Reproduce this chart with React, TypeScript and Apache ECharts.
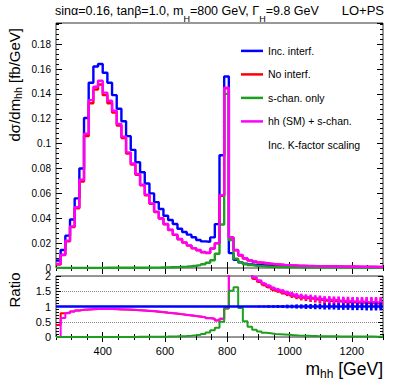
import React, { useEffect, useRef } from "react";
import * as echarts from "echarts";

const FONT = "'Liberation Sans', Arial, Helvetica, sans-serif";
const f = (px: number) => `${px}px ${FONT}`;

// ---- binning / axes ----
const binStart = 250;
const binWidth = 15;
const xMin = 250;
const xMax = 1300;
const xMajorTicks = [400, 600, 800, 1000, 1200];
const xMinorStep = 50;
const yTopMax = 0.197;
const yTopStep = 0.02;
const yTopMinorStep = 0.004;
const ratioMax = 2;
const ratioStep = 0.5;
const ratioMinorStep = 0.1;

// ---- legend ----
const names = ["Inc. interf.", "No interf.", "s-chan. only", "hh (SM) + s-chan."];
const noteText = "Inc. K-factor scaling";
const colors = ["#0000ff", "#ff0000", "#1f9f1f", "#ff00ff"];

// ---- top panel: dsigma/dm_hh [fb/GeV], 70 bins of 15 GeV from 250 ----
const incInterf = [
  0.006, 0.0145, 0.026, 0.039, 0.056, 0.08, 0.1206, 0.149, 0.162, 0.164,
  0.157, 0.149, 0.139, 0.128, 0.118, 0.106, 0.095, 0.085, 0.077, 0.068,
  0.06, 0.053, 0.0474, 0.042, 0.0386, 0.0354, 0.0316, 0.029, 0.0268, 0.0247,
  0.0225, 0.0214, 0.0211, 0.0246, 0.0353, 0.0907, 0.154, 0.012, 0.0065, 0.0045,
  0.0035, 0.0029, 0.0025, 0.0023, 0.0021, 0.002, 0.0019, 0.0018, 0.0017, 0.0016,
  0.0015, 0.0014, 0.0013, 0.0013, 0.0012, 0.0012, 0.0011, 0.0011, 0.001, 0.001,
  0.001, 0.0009, 0.0009, 0.0009, 0.0009, 0.0008, 0.0008, 0.0008, 0.0007, 0.0007,
];
const noInterf = [
  0.0028, 0.0105, 0.0215, 0.033, 0.048, 0.0695, 0.106, 0.1325, 0.1435, 0.1475,
  0.139, 0.1325, 0.125, 0.1145, 0.1045, 0.092, 0.0832, 0.075, 0.0665, 0.0585,
  0.0516, 0.045, 0.0397, 0.0352, 0.0306, 0.0266, 0.0231, 0.0204, 0.018, 0.0158,
  0.0143, 0.0127, 0.0121, 0.0156, 0.0198, 0.058, 0.1445, 0.0245, 0.0142, 0.0101,
  0.0076, 0.006, 0.005, 0.0043, 0.0038, 0.0034, 0.003, 0.0027, 0.0024, 0.0022,
  0.002, 0.0018, 0.0017, 0.0016, 0.0015, 0.0014, 0.0013, 0.0012, 0.0012, 0.0011,
  0.0011, 0.001, 0.001, 0.001, 0.0009, 0.0009, 0.0009, 0.0008, 0.0008, 0.0008,
];
const sChanOnly = [
  0.0001, 0.0001, 0.0001, 0.0001, 0.0001, 0.0001, 0.0001, 0.0001, 0.0001, 0.0001,
  0.0002, 0.0002, 0.0002, 0.0002, 0.0002, 0.0002, 0.0002, 0.0002, 0.0002, 0.0002,
  0.0003, 0.0003, 0.0004, 0.0005, 0.0006, 0.0007, 0.0009, 0.0011, 0.0014, 0.0018,
  0.0023, 0.003, 0.0042, 0.0062, 0.0115, 0.035, 0.14, 0.0225, 0.0075, 0.0045,
  0.003, 0.0023, 0.0018, 0.0015, 0.0012, 0.001, 0.0009, 0.0008, 0.0007, 0.0006,
  0.0005, 0.0005, 0.0004, 0.0004, 0.0004, 0.0003, 0.0003, 0.0003, 0.0003, 0.0003,
  0.0003, 0.0003, 0.0003, 0.0002, 0.0002, 0.0002, 0.0002, 0.0002, 0.0002, 0.0002,
];
const hhSmPlusS = [
  0.0032, 0.0107, 0.022, 0.0335, 0.0488, 0.071, 0.108, 0.135, 0.1458, 0.1506,
  0.141, 0.1345, 0.1265, 0.1158, 0.1056, 0.093, 0.084, 0.0756, 0.067, 0.059,
  0.052, 0.0453, 0.04, 0.0354, 0.0308, 0.0268, 0.0233, 0.0206, 0.0182, 0.016,
  0.0145, 0.0129, 0.0123, 0.0158, 0.02, 0.0586, 0.145, 0.0246, 0.0145, 0.0104,
  0.0078, 0.0062, 0.0052, 0.0045, 0.004, 0.0035, 0.0031, 0.0028, 0.0025, 0.0023,
  0.0021, 0.0019, 0.0018, 0.0017, 0.0016, 0.0015, 0.0014, 0.0013, 0.0012, 0.0012,
  0.0011, 0.0011, 0.001, 0.001, 0.001, 0.0009, 0.0009, 0.0009, 0.0008, 0.0008,
];

// ---- ratio panel ----
const ratioInc = [
  1, 1, 1, 1, 1, 1, 1, 1, 1, 1, 1, 1, 1, 1, 1, 1, 1, 1, 1, 1,
  1, 1, 1, 1, 1, 1, 1, 1, 1, 1, 1, 1, 1, 1, 1, 1, 1, 1, 1, 1,
  1, 1, 1, 1, 1, 1, 1, 1, 1, 1, 1, 1, 1, 1, 1, 1, 1, 1, 1, 1,
  1, 1, 1, 1, 1, 1, 1, 1, 1, 1,
];
const ratioNo = [
  0.39, 0.78, 0.8, 0.84, 0.87, 0.89, 0.9, 0.91, 0.915, 0.915,
  0.915, 0.915, 0.91, 0.905, 0.9, 0.895, 0.885, 0.875, 0.865, 0.855,
  0.845, 0.83, 0.815, 0.795, 0.78, 0.765, 0.745, 0.725, 0.705, 0.685,
  0.665, 0.645, 0.615, 0.595, 0.545, 0.595, 0.935, 3, 3, 3,
  3, 2.3, 1.91, 1.81, 1.71, 1.64, 1.56, 1.51, 1.46, 1.41,
  1.36, 1.32, 1.29, 1.27, 1.25, 1.23, 1.21, 1.19, 1.18, 1.17,
  1.16, 1.15, 1.14, 1.13, 1.12, 1.12, 1.11, 1.11, 1.1, 1.1,
];
const ratioS = [
  0, 0, 0, 0, 0, 0, 0, 0, 0, 0,
  0.001, 0.001, 0.002, 0.002, 0.003, 0.003, 0.004, 0.005, 0.006, 0.007,
  0.008, 0.01, 0.012, 0.014, 0.017, 0.021, 0.027, 0.035, 0.045, 0.057,
  0.075, 0.1, 0.15, 0.22, 0.3, 0.5, 0.95, 1.52, 1.63, 0.95,
  0.52, 0.34, 0.24, 0.18, 0.14, 0.12, 0.1, 0.09, 0.08, 0.07,
  0.06, 0.05, 0.045, 0.04, 0.035, 0.03, 0.028, 0.026, 0.024, 0.022,
  0.02, 0.019, 0.018, 0.017, 0.016, 0.015, 0.014, 0.013, 0.012, 0.012,
];
const ratioHh = [
  0, 0.62, 0.78, 0.84, 0.87, 0.89, 0.9, 0.91, 0.915, 0.92,
  0.92, 0.92, 0.915, 0.91, 0.905, 0.9, 0.89, 0.88, 0.87, 0.86,
  0.85, 0.835, 0.82, 0.8, 0.785, 0.77, 0.75, 0.73, 0.71, 0.69,
  0.67, 0.65, 0.62, 0.6, 0.55, 0.6, 0.94, 3, 3, 3,
  3, 2.3, 1.95, 1.85, 1.75, 1.68, 1.6, 1.55, 1.5, 1.45,
  1.4, 1.36, 1.33, 1.31, 1.29, 1.27, 1.25, 1.23, 1.22, 1.21,
  1.2, 1.19, 1.18, 1.17, 1.16, 1.16, 1.15, 1.15, 1.14, 1.14,
];
const errHh = [
  0, 0, 0, 0, 0, 0, 0, 0, 0, 0, 0, 0, 0, 0, 0, 0, 0, 0, 0, 0,
  0, 0, 0, 0, 0, 0, 0, 0, 0, 0, 0, 0, 0, 0, 0, 0, 0, 0, 0, 0,
  0.03, 0.03, 0.04, 0.04, 0.05, 0.05, 0.06, 0.06, 0.07, 0.07,
  0.08, 0.08, 0.09, 0.09, 0.1, 0.1, 0.11, 0.11, 0.12, 0.12,
  0.13, 0.13, 0.14, 0.14, 0.15, 0.15, 0.16, 0.16, 0.17, 0.17,
];
const errInc = [
  0, 0, 0, 0, 0, 0, 0, 0, 0, 0, 0, 0, 0, 0, 0, 0, 0, 0, 0, 0,
  0, 0, 0, 0, 0, 0, 0, 0, 0, 0, 0, 0, 0, 0, 0, 0, 0, 0, 0, 0,
  0.01, 0.02, 0.02, 0.03, 0.03, 0.04, 0.04, 0.05, 0.05, 0.06,
  0.06, 0.07, 0.07, 0.08, 0.08, 0.09, 0.09, 0.1, 0.1, 0.1,
  0.11, 0.11, 0.11, 0.12, 0.12, 0.12, 0.13, 0.13, 0.13, 0.13,
];

const stepData = (vals: number[]) =>
  vals
    .map((v, i) => [binStart + i * binWidth, v])
    .concat([[binStart + vals.length * binWidth, vals[vals.length - 1]]]);

const barData = (vals: number[], errs: number[]) =>
  vals
    .map((v, i) => [binStart + (i + 0.5) * binWidth, v, errs[i]])
    .filter((d) => d[2] > 0);

const tickStyle = { color: "#000", width: 1 };

function makeXAxes(gridIndex: number, showLabels: boolean, majLen: number, minLen: number) {
  const base: any = {
    type: "value",
    gridIndex,
    min: xMin,
    max: xMax,
    splitLine: { show: false },
    axisLine: { show: false },
  };
  const major = (position: string, labels: boolean) => ({
    ...base,
    position,
    axisTick: { show: true, inside: true, length: majLen, customValues: xMajorTicks, lineStyle: tickStyle },
    axisLabel: {
      show: labels,
      customValues: xMajorTicks,
      fontSize: 11,
      fontFamily: FONT,
      color: "#000",
      margin: 8,
      formatter: (v: number) => (xMajorTicks.indexOf(Math.round(v)) >= 0 ? String(Math.round(v)) : ""),
    },
  });
  const minor = (position: string) => ({
    ...base,
    position,
    interval: xMinorStep,
    axisTick: { show: true, inside: true, length: minLen, lineStyle: tickStyle },
    axisLabel: { show: false },
  });
  return [major("bottom", showLabels), minor("bottom"), major("top", false), minor("top")];
}

function makeYAxes(
  gridIndex: number,
  max: number,
  step: number,
  minorStep: number,
  majLen: number,
  minLen: number,
  labelSize: number,
  split: boolean
) {
  const base: any = {
    type: "value",
    gridIndex,
    min: 0,
    max,
    axisLine: { show: false },
  };
  const major = (position: string, labels: boolean) => ({
    ...base,
    position,
    interval: step,
    splitLine: {
      show: split && labels,
      lineStyle: { type: "dotted", color: "#888", width: 1 },
    },
    axisTick: { show: true, inside: true, length: majLen, lineStyle: tickStyle },
    axisLabel: {
      show: labels,
      fontSize: labelSize,
      fontFamily: FONT,
      color: "#000",
      margin: 5,
      formatter: (v: number) => {
        const k = v / step;
        return Math.abs(k - Math.round(k)) < 1e-6 ? String(+v.toFixed(2)) : "";
      },
    },
  });
  const minor = (position: string) => ({
    ...base,
    position,
    interval: minorStep,
    splitLine: { show: false },
    axisTick: { show: true, inside: true, length: minLen, lineStyle: tickStyle },
    axisLabel: { show: false },
  });
  return [major("left", true), minor("left"), major("right", false), minor("right")];
}

function errorBars(name: string, vals: number[], errs: number[], color: string, z: number) {
  return {
    type: "custom",
    name,
    xAxisIndex: 4,
    yAxisIndex: 4,
    z,
    silent: true,
    data: barData(vals, errs),
    renderItem: (params: any, api: any) => {
      const x = api.value(0);
      const y = api.value(1);
      const e = api.value(2);
      const p1 = api.coord([x, y + e]);
      const p2 = api.coord([x, y - e]);
      const cs = params.coordSys;
      const top = Math.max(p1[1], cs.y);
      const bot = Math.min(p2[1], cs.y + cs.height);
      if (bot <= top) return null;
      return {
        type: "rect",
        shape: { x: p1[0] - 1.3, y: top, width: 2.6, height: bot - top },
        style: { fill: color },
      };
    },
  };
}

export default function App() {
  const ref = useRef<HTMLDivElement>(null);
  useEffect(() => {
    if (!ref.current) return;
    const chart = echarts.init(ref.current, undefined, { renderer: "svg" });
    const topVals = [incInterf, noInterf, sChanOnly, hhSmPlusS];
    const topSeries: any[] = topVals.map((vals, i) => ({
      type: "line",
      name: names[i],
      xAxisIndex: 0,
      yAxisIndex: 0,
      data: stepData(vals),
      step: "end",
      symbol: "none",
      showSymbol: false,
      silent: true,
      clip: true,
      z: 3 + i,
      lineStyle: { color: colors[i], width: 2.4 },
      itemStyle: { color: colors[i] },
    }));
    const noteSeries = {
      type: "line",
      name: noteText,
      xAxisIndex: 0,
      yAxisIndex: 0,
      data: [],
      symbol: "none",
      itemStyle: { color: "#000" },
    };
    const ratioLine = (name: string, vals: number[], color: string, z: number, width = 2) => ({
      type: "line",
      name,
      xAxisIndex: 4,
      yAxisIndex: 4,
      data: stepData(vals),
      step: "end",
      symbol: "none",
      showSymbol: false,
      silent: true,
      clip: true,
      z,
      lineStyle: { color, width },
      itemStyle: { color },
    });
    const ratioSeries = [
      ratioLine("r-no", ratioNo, colors[1], 3),
      errorBars("e-no", ratioNo, errHh, colors[1], 3),
      ratioLine("r-hh", ratioHh, colors[3], 4),
      errorBars("e-hh", ratioHh, errHh, colors[3], 4),
      ratioLine("r-s", ratioS, colors[2], 5),
      ratioLine("r-inc", ratioInc, colors[0], 6, 2.4),
      errorBars("e-inc", ratioInc, errInc, colors[0], 6),
    ];

    const option: any = {
      animation: false,
      backgroundColor: "#fff",
      textStyle: { fontFamily: FONT },
      grid: [
        {
          left: 56, top: 23, width: 327, height: 245,
          show: true, borderColor: "#333", borderWidth: 1, backgroundColor: "transparent",
          outerBoundsMode: "none", containLabel: false,
        },
        {
          left: 56, top: 276, width: 327, height: 61,
          show: true, borderColor: "#333", borderWidth: 1, backgroundColor: "transparent",
          outerBoundsMode: "none", containLabel: false,
        },
      ],
      xAxis: [...makeXAxes(0, false, 6, 3), ...makeXAxes(1, true, 5, 3)],
      yAxis: [
        ...makeYAxes(0, yTopMax, yTopStep, yTopMinorStep, 6, 3, 10, false),
        ...makeYAxes(1, ratioMax, ratioStep, ratioMinorStep, 5, 3, 11, true),
      ],
      legend: {
        show: true,
        orient: "vertical",
        left: 241,
        top: 45.4,
        padding: 0,
        itemWidth: 22,
        itemHeight: 2.5,
        itemGap: 12.5,
        icon: "rect",
        selectedMode: false,
        itemStyle: { borderWidth: 0 },
        textStyle: { fontSize: 10.5, color: "#000", fontFamily: FONT },
        data: [
          { name: names[0] },
          { name: names[1] },
          { name: names[2] },
          { name: names[3] },
          { name: noteText, icon: "none" },
        ],
      },
      graphic: [
        {
          type: "text",
          x: 55,
          y: 4.4,
          silent: true,
          style: {
            text: "{a|sinα=0.16, tanβ=1.0, m}{s|H}{a|=800 GeV, Γ}{s|H}{a|=9.8 GeV}",
            align: "left",
            verticalAlign: "top",
            fill: "#000",
            font: f(12.5),
            rich: {
              a: { font: f(12.5), fill: "#000", lineHeight: 14, verticalAlign: "top" },
              s: { font: f(9), fill: "#000", lineHeight: 19, verticalAlign: "bottom" },
            },
          },
        },
        {
          type: "text",
          x: 384,
          y: 10.5,
          silent: true,
          style: { text: "LO+PS", font: f(13), fill: "#000", align: "right", verticalAlign: "middle" },
        },
        {
          type: "text",
          x: 6.5,
          y: 28,
          rotation: Math.PI / 2,
          silent: true,
          style: {
            text: "{a|dσ/dm}{s|hh}{a| [fb/GeV]}",
            align: "right",
            verticalAlign: "top",
            fill: "#000",
            font: f(15),
            rich: {
              a: { font: f(15), fill: "#000", lineHeight: 15, verticalAlign: "top" },
              s: { font: f(10.5), fill: "#000", lineHeight: 17, verticalAlign: "bottom" },
            },
          },
        },
        {
          type: "text",
          x: 14,
          y: 290,
          rotation: Math.PI / 2,
          silent: true,
          style: { text: "Ratio", font: f(15), fill: "#000", align: "center", verticalAlign: "middle" },
        },
        {
          type: "text",
          x: 383,
          y: 360,
          silent: true,
          style: {
            text: "{a|m}{s|hh}{a| [GeV]}",
            align: "right",
            verticalAlign: "top",
            fill: "#000",
            font: f(17.5),
            rich: {
              a: { font: f(17.5), fill: "#000", lineHeight: 17.5, verticalAlign: "top" },
              s: { font: f(12), fill: "#000", lineHeight: 20, verticalAlign: "bottom" },
            },
          },
        },
      ],
      series: [...topSeries, noteSeries, ...ratioSeries],
    };
    chart.setOption(option);
    return () => chart.dispose();
  }, []);
  return (
    <div
      ref={ref}
      style={{ position: "fixed", left: 0, top: 0, width: 399, height: 383, background: "#fff" }}
    />
  );
}
